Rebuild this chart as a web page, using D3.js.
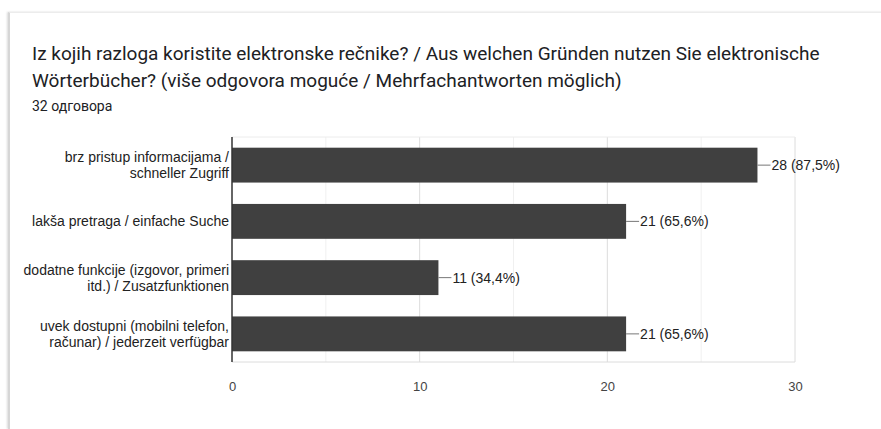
<html>
<head>
<meta charset="utf-8">
<script src="https://d3js.org/d3.v7.min.js"></script>
<style>
  body { margin: 0; background: #fff; }
  #card { position: absolute; left: 8px; top: 12px; width: 880px; height: 416px; background: #fff;
          border-left: 2px solid #d6d6d6; border-top: 1px solid #ececec; box-shadow: -1px 0 2px rgba(0,0,0,0.15); }
  svg { position: absolute; left: 0; top: 0; }
</style>
</head>
<body>
<div id="card"></div>
<svg width="881" height="429"></svg>
<script>
// survey data
const categories = [
  "brz pristup informacijama /\nschneller Zugriff",
  "lakša pretraga / einfache Suche",
  "dodatne funkcije (izgovor, primeri\nitd.) / Zusatzfunktionen",
  "uvek dostupni (mobilni telefon,\nračunar) / jederzeit verfügbar"
];
const counts = [28, 21, 11, 21];
const percents = ["87,5%", "65,6%", "34,4%", "65,6%"];
const xTicks = [0, 10, 20, 30];
const minorTicks = [5, 15, 25];

const svg = d3.select("svg");

var plotLeft = 232, plotRight = 795, plotTop = 137, plotBottom = 362;

var x = d3.scaleLinear().domain([0, 30]).range([plotLeft, plotRight]);
var y = d3.scaleBand().domain(categories).range([plotTop, plotBottom]).paddingInner(0.38).paddingOuter(0.19);

// title
svg.append("text").attr("x", 32).attr("y", 60)
  .style("font-family", "Roboto").style("font-size", "19px").attr("fill", "#202124")
  .text("Iz kojih razloga koristite elektronske rečnike? / Aus welchen Gründen nutzen Sie elektronische");
svg.append("text").attr("x", 32).attr("y", 87)
  .style("font-family", "Roboto").style("font-size", "19px").attr("fill", "#202124")
  .text("Wörterbücher? (više odgovora moguće / Mehrfachantworten möglich)");
svg.append("text").attr("x", 32).attr("y", 111)
  .style("font-family", "Roboto").style("font-size", "14px").attr("fill", "#202124")
  .text("32 одговора");

// grid
svg.append("g").selectAll("line").data(minorTicks).enter().append("line")
  .attr("x1", d => x(d)).attr("x2", d => x(d)).attr("y1", plotTop).attr("y2", plotBottom)
  .attr("stroke", "#f0f0f0");
svg.append("g").selectAll("line").data(xTicks.slice(1)).enter().append("line")
  .attr("x1", d => x(d)).attr("x2", d => x(d)).attr("y1", plotTop).attr("y2", plotBottom)
  .attr("stroke", "#dcdcdc");
svg.append("line").attr("x1", plotLeft).attr("x2", plotRight).attr("y1", plotTop).attr("y2", plotTop).attr("stroke", "#ececec");
svg.append("line").attr("x1", plotLeft).attr("x2", plotRight).attr("y1", plotBottom).attr("y2", plotBottom).attr("stroke", "#dcdcdc");

// bars
svg.append("g").selectAll("rect").data(categories).enter().append("rect")
  .attr("x", x(0)).attr("y", d => y(d))
  .attr("width", (d, i) => x(counts[i]) - x(0))
  .attr("height", y.bandwidth())
  .attr("fill", "#404040");

// axis line
svg.append("line").attr("x1", plotLeft).attr("x2", plotLeft).attr("y1", plotTop).attr("y2", plotBottom)
  .attr("stroke", "#333").attr("stroke-width", 1.5);

// x tick labels
var xAxis = svg.append("g").attr("transform", "translate(0," + (plotBottom + 20) + ")")
  .call(d3.axisBottom(x).tickValues(xTicks).tickSize(0).tickPadding(0));
xAxis.select(".domain").remove();
xAxis.selectAll("text").style("font-family", "Liberation Sans").style("font-size", "13px").attr("fill", "#444");

// category labels
var lab = svg.append("g").selectAll("text").data(categories).enter().append("text")
  .attr("text-anchor", "end")
  .style("font-family", "Liberation Sans").style("font-size", "14px").attr("fill", "#222");
lab.each(function(d) {
  var lines = d.split("\n");
  var cy = y(d) + y.bandwidth() / 2;
  var t = d3.select(this);
  lines.forEach((ln, j) => {
    t.append("tspan").attr("x", 229)
      .attr("y", cy + 5 + (j - (lines.length - 1) / 2) * 16)
      .text(ln);
  });
});

// value labels
svg.append("g").selectAll("line").data(categories).enter().append("line")
  .attr("x1", (d, i) => x(counts[i])).attr("x2", (d, i) => x(counts[i]) + 13)
  .attr("y1", d => y(d) + y.bandwidth() / 2).attr("y2", d => y(d) + y.bandwidth() / 2)
  .attr("stroke", "#777");
svg.append("g").selectAll("text").data(categories).enter().append("text")
  .attr("x", (d, i) => x(counts[i]) + 14)
  .attr("y", d => y(d) + y.bandwidth() / 2 + 5)
  .style("font-family", "Liberation Sans").style("font-size", "14px").attr("fill", "#222")
  .text((d, i) => counts[i] + " (" + percents[i] + ")");
</script>
</body>
</html>
